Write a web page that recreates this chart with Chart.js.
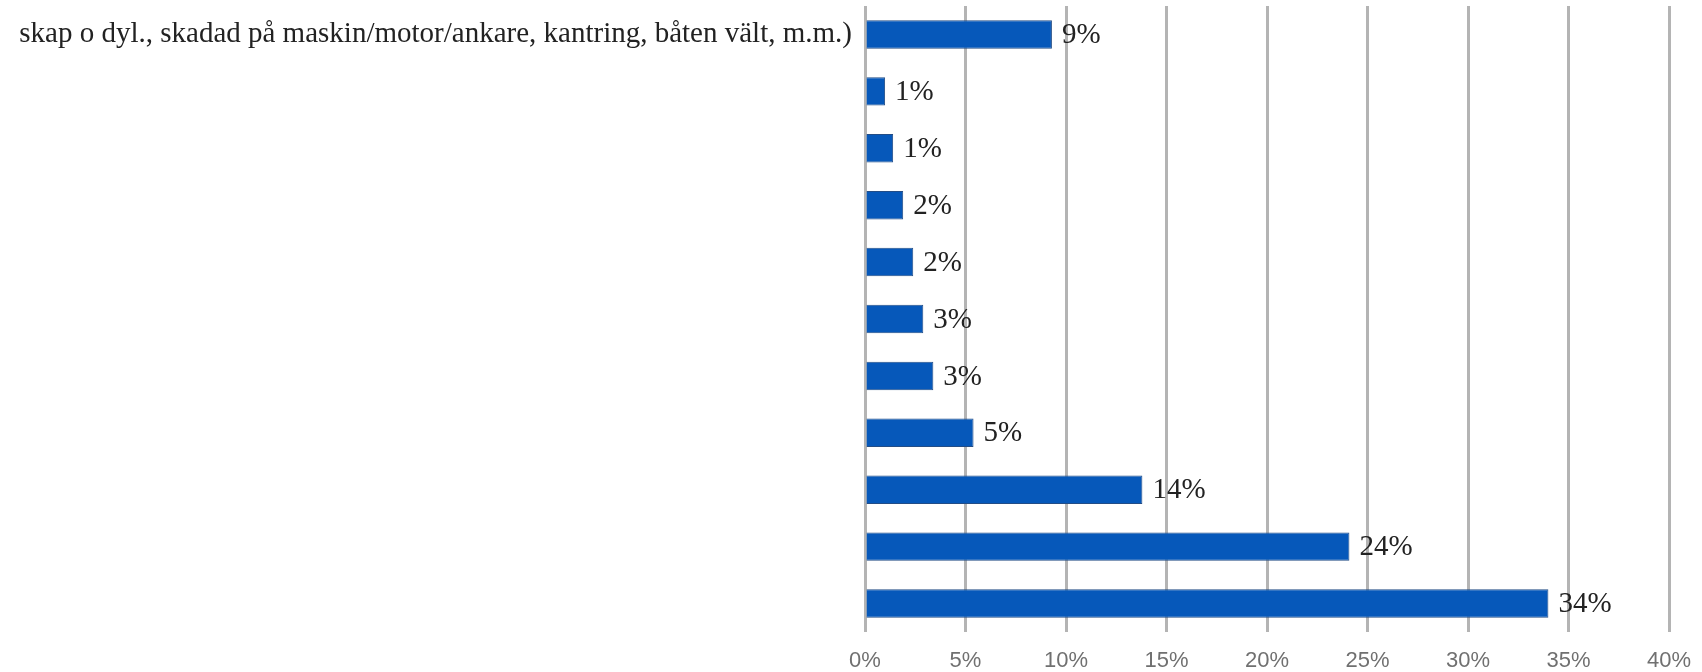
<!DOCTYPE html>
<html>
<head>
<meta charset="utf-8">
<script src="https://cdn.jsdelivr.net/npm/chart.js@4/dist/chart.umd.min.js"></script>
<style>
  html, body { margin: 0; padding: 0; background: #fff; }
  #wrap { width: 1702px; height: 672px; }
</style>
</head>
<body>
<div id="wrap"><canvas id="chart"></canvas></div>
<script>
// categories, top to bottom (only the first label is visible in the picture)
const categories = [
    "skap o dyl., skadad på maskin/motor/ankare, kantring, båten vält, m.m.)",
    "", "", "", "", "", "", "", "", "", ""
];
// share of answers, percent
const values = [9.3, 1.0, 1.4, 1.9, 2.4, 2.9, 3.4, 5.4, 13.8, 24.1, 34.0];
const xTicks = [0, 5, 10, 15, 20, 25, 30, 35, 40];

const serif = "'Liberation Serif', 'Times New Roman', serif";

// draws the rounded percentage to the right of each bar
const barLabels = {
    id: "barlabels",
    afterDatasetsDraw: function (chart) {
        var ctx = chart.ctx;
        var meta = chart.getDatasetMeta(0);
        ctx.save();
        ctx.font = "29px " + serif;
        ctx.fillStyle = "#222";
        ctx.textAlign = "left";
        ctx.textBaseline = "middle";
        meta.data.forEach(function (bar, i) {
            ctx.fillText(Math.round(values[i]) + "%", bar.x + 10, bar.y + 1);
        });
        ctx.restore();
    }
};

const config = {
    type: "bar",
    data: {
        labels: categories,
        datasets: [{
            data: values,
            backgroundColor: "#0658BA",
            borderColor: "#234d86",
            borderWidth: 1,
            categoryPercentage: 1,
            barPercentage: 0.5
        }]
    },
    options: {
        indexAxis: "y",
        responsive: true,
        maintainAspectRatio: false,
        animation: false,
        layout: {
            padding: { top: 6, right: 33, bottom: 0, left: 0 }
        },
        plugins: {
            legend: { display: false },
            tooltip: { enabled: false }
        },
        scales: {
            x: {
                min: 0,
                max: 40,
                afterBuildTicks: function (scale) {
                    scale.ticks = xTicks.map(function (v) { return { value: v }; });
                },
                grid: {
                    color: "#b4b4b4",
                    lineWidth: 3,
                    drawTicks: false
                },
                border: { display: false },
                ticks: {
                    padding: 16,
                    color: "#707070",
                    font: { family: "'Liberation Sans', Arial, sans-serif", size: 22 },
                    maxRotation: 0,
                    callback: function (v) { return v + "%"; }
                },
                afterFit: function (scale) {
                    scale.height = 40;
                    scale.paddingLeft = 0;
                    scale.paddingRight = 0;
                }
            },
            y: {
                grid: { display: false, drawTicks: false },
                border: { display: false },
                ticks: {
                    padding: 13,
                    color: "#222",
                    font: { family: serif, size: 29 },
                    autoSkip: false
                },
                afterFit: function (scale) {
                    scale.width = 865;
                    scale.paddingTop = 0;
                    scale.paddingBottom = 0;
                }
            }
        }
    },
    plugins: [barLabels]
};

new Chart(document.getElementById("chart"), config);
</script>
</body>
</html>
